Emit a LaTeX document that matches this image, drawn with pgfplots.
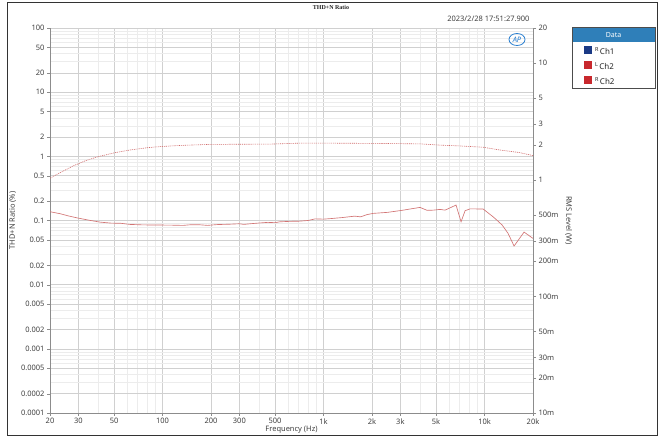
\documentclass[border=0pt]{standalone}
\usepackage{pgfplots}
\pgfplotsset{compat=1.18}
\usepackage{fontspec}
\setmainfont{Noto Sans}
\newfontfamily\titlefont{Liberation Serif}
\definecolor{ticktxt}{HTML}{404040}
\definecolor{gridmaj}{HTML}{D0D0D0}
\definecolor{gridmin}{HTML}{ECECEC}
\definecolor{axline}{HTML}{8C8C8C}
\definecolor{curve}{HTML}{D27474}
\definecolor{curveb}{HTML}{D06A6A}
\definecolor{hdr}{HTML}{2F7FB9}
\definecolor{navy}{HTML}{1B3A85}
\definecolor{lred}{HTML}{C8282D}
\definecolor{apblue}{HTML}{2A7FD0}
\begin{document}
\begin{tikzpicture}[x=1pt,y=1pt]
\useasboundingbox (0,0) rectangle (662,437);
\fill[white] (0,0) rectangle (662,437);
\draw[line width=1pt,black!80] (7,2) rectangle (657,434.5);
% main axis (THD+N)
\begin{axis}[
  at={(50pt,24pt)}, anchor=south west,
  width=483pt, height=385pt, scale only axis,
  xmode=log, ymode=log,
  xmin=20, xmax=20000, ymin=0.0001, ymax=100,
  axis y line*=left, axis x line*=bottom,
  axis line style={axline, line width=0.6pt},
  xtick={20,30,50,100,200,300,500,1000,2000,3000,5000,10000,20000},
  xticklabels={20,30,50,100,200,300,500,1k,2k,3k,5k,10k,20k},
  minor xtick={40,60,70,80,90,400,600,700,800,900,4000,6000,7000,8000,9000},
  ytick={0.0001,0.0002,0.0005,0.001,0.002,0.005,0.01,0.02,0.05,0.1,0.2,0.5,1,2,5,10,20,50,100},
  yticklabels={0.0001,0.0002,0.0005,0.001,0.002,0.005,0.01,0.02,0.05,0.1,0.2,0.5,1,2,5,10,20,50,100},
  minor ytick={0.0003,0.0004,0.0006,0.0007,0.0008,0.0009,0.003,0.004,0.006,0.007,0.008,0.009,0.03,0.04,0.06,0.07,0.08,0.09,0.3,0.4,0.6,0.7,0.8,0.9,3,4,6,7,8,9,30,40,60,70,80,90},
  grid=both,
  major grid style={gridmaj, line width=0.5pt},
  minor grid style={gridmin, line width=0.4pt},
  major tick length=3pt, minor tick length=0pt,
  tick align=outside,
  tick style={axline},
  ticklabel style={font=\fontsize{7.5}{9}\selectfont, text=ticktxt},
  xticklabel style={yshift=1pt},
  yticklabel style={xshift=1pt},
  xlabel={Frequency (Hz)},
  xlabel style={font=\fontsize{7.5}{9}\selectfont, text=ticktxt, yshift=5pt},
  ylabel={THD+N Ratio (\%)},
  ylabel style={font=\fontsize{7.5}{9}\selectfont, text=ticktxt, yshift=-2pt},
  clip=true,
]
\addplot[curve, line width=0.65pt] coordinates {
(20,0.137) (23,0.128) (26,0.118) (29.4,0.110) (35,0.101) (40.9,0.0944)
(48,0.091) (55,0.0905) (62.8,0.0869) (75,0.0855) (90,0.0850) (110,0.0848)
(134,0.0839) (150,0.0860) (171,0.0857) (190,0.0840) (220,0.0865) (260,0.0875)
(300,0.0890) (320,0.0870) (349,0.0889) (400,0.0915) (450,0.0935) (500,0.0925)
(536,0.0955) (620,0.097) (700,0.0975) (800,0.1) (888,0.106) (1000,0.105)
(1102,0.107) (1300,0.111) (1566,0.117) (1700,0.114) (1850,0.123) (2026,0.129)
(2500,0.134) (3072,0.144) (3500,0.152) (3976,0.160) (4398,0.144) (4800,0.145)
(5292,0.149) (5686,0.145) (6652,0.174) (7148,0.0955) (7571,0.142) (8134,0.152)
(9804,0.151) (11309,0.114) (12000,0.100) (12874,0.0848) (14000,0.063)
(15254,0.040) (17600,0.066) (20000,0.0526)
};
\end{axis}
% right axis (RMS Level)
\begin{axis}[
  at={(50pt,24pt)}, anchor=south west,
  width=483pt, height=385pt, scale only axis,
  xmode=log, ymode=log,
  xmin=20, xmax=20000, ymin=0.01, ymax=20,
  axis x line=none, axis y line*=right,
  axis line style={axline, line width=0.6pt},
  ytick={0.01,0.02,0.03,0.05,0.1,0.2,0.3,0.5,1,2,3,5,10,20},
  yticklabels={10m,20m,30m,50m,100m,200m,300m,500m,1,2,3,5,10,20},
  major tick length=3pt, minor tick length=0pt,
  tick align=outside,
  tick style={axline},
  ticklabel style={font=\fontsize{7.5}{9}\selectfont, text=ticktxt},
  yticklabel style={xshift=-1pt},
  ylabel={RMS Level (W)},
  ylabel style={font=\fontsize{7.5}{9}\selectfont, text=ticktxt, rotate=180, yshift=0pt},
]
\addplot[curveb, line width=0.6pt, dash pattern=on 1pt off 0.9pt] coordinates {
(20,1.03) (22,1.11) (24,1.18) (26,1.25) (28,1.32) (30,1.37) (33,1.45) (36,1.51)
(40,1.58) (45,1.64) (50,1.70) (56,1.75) (63,1.80) (71,1.84) (80,1.88) (90,1.91)
(100,1.93) (130,1.97) (200,2.01) (466,2.02)
(715,2.06) (1000,2.06) (2000,2.05) (3976,2.03) (5292,1.98) (7000,1.95)
(9804,1.90) (12400,1.80) (16500,1.71) (20000,1.61)
};
\end{axis}
% title and stamp
\node[font=\titlefont\bfseries\fontsize{6}{7}\selectfont, text=black!85] at (331,430) {THD+N Ratio};
\node[font=\fontsize{7.5}{9}\selectfont, text=ticktxt, anchor=east] at (533,418.5) {2023/2/28 17:51:27.900};
% AP logo
\draw[apblue, line width=0.8pt] (517,397.5) ellipse (8pt and 6pt);
\node[font=\bfseries\itshape\fontsize{7.5}{8}\selectfont, text=apblue] at (517,397.5) {AP};
% legend box
\fill[hdr] (572,395) rectangle (655,409.5);
\draw[black!70, line width=0.6pt] (572,349) rectangle (655,409.5);
\node[font=\bfseries\fontsize{7}{8}\selectfont, text=white] at (613.5,402.2) {Data};
\fill[navy] (584,383) rectangle (592,391);
\fill[lred] (584,368) rectangle (592,376);
\fill[lred] (584,353) rectangle (592,361);
\node[anchor=west, font=\fontsize{8}{9}\selectfont, text=black!85, inner sep=0pt] at (595,386) {\raisebox{2.8pt}{\fontsize{5.5}{6}\selectfont R}\,Ch1};
\node[anchor=west, font=\fontsize{8}{9}\selectfont, text=black!85, inner sep=0pt] at (595,371) {\raisebox{2.8pt}{\fontsize{5.5}{6}\selectfont L}\,Ch2};
\node[anchor=west, font=\fontsize{8}{9}\selectfont, text=black!85, inner sep=0pt] at (595,356) {\raisebox{2.8pt}{\fontsize{5.5}{6}\selectfont R}\,Ch2};
\end{tikzpicture}
\end{document}
